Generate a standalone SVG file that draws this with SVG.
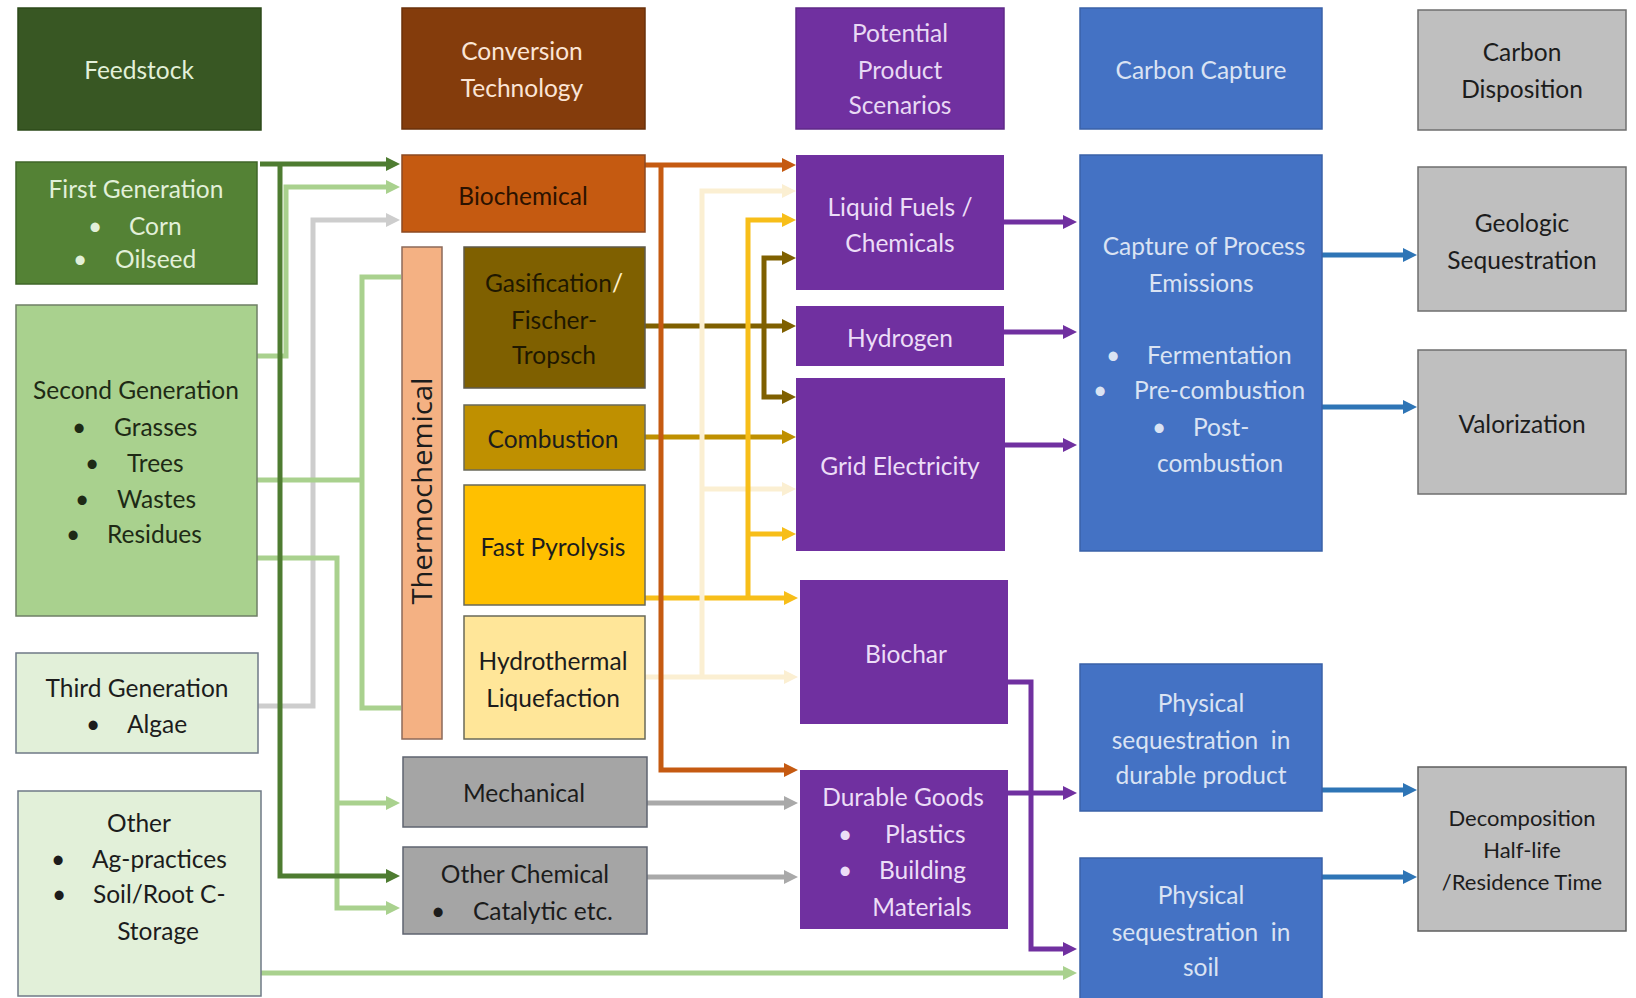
<svg xmlns="http://www.w3.org/2000/svg" width="1636" height="998" viewBox="0 0 1636 998">
<style>
.t{font-family:Lato,"Open Sans",sans-serif;font-size:24.5px;text-anchor:middle;dominant-baseline:central}
.st{text-anchor:start}
.sm{font-size:22px}
.dk{fill:#1c1c1c}
.c{fill:none;stroke-width:5}
.box{stroke-width:1.5}
</style>
<defs>
<marker id="a-dg" markerUnits="userSpaceOnUse" markerWidth="14" markerHeight="14" viewBox="0 0 14 14" refX="2" refY="7" orient="auto"><path d="M0,0L14,7L0,14z" fill="#4E7C31"/></marker>
<marker id="a-lg" markerUnits="userSpaceOnUse" markerWidth="14" markerHeight="14" viewBox="0 0 14 14" refX="2" refY="7" orient="auto"><path d="M0,0L14,7L0,14z" fill="#A9D18E"/></marker>
<marker id="a-lgr" markerUnits="userSpaceOnUse" markerWidth="14" markerHeight="14" viewBox="0 0 14 14" refX="2" refY="7" orient="auto"><path d="M0,0L14,7L0,14z" fill="#CDCDCD"/></marker>
<marker id="a-or" markerUnits="userSpaceOnUse" markerWidth="14" markerHeight="14" viewBox="0 0 14 14" refX="2" refY="7" orient="auto"><path d="M0,0L14,7L0,14z" fill="#C55A11"/></marker>
<marker id="a-pl" markerUnits="userSpaceOnUse" markerWidth="14" markerHeight="14" viewBox="0 0 14 14" refX="2" refY="7" orient="auto"><path d="M0,0L14,7L0,14z" fill="#FBEFD2"/></marker>
<marker id="a-ye" markerUnits="userSpaceOnUse" markerWidth="14" markerHeight="14" viewBox="0 0 14 14" refX="2" refY="7" orient="auto"><path d="M0,0L14,7L0,14z" fill="#F7BE19"/></marker>
<marker id="a-ol" markerUnits="userSpaceOnUse" markerWidth="14" markerHeight="14" viewBox="0 0 14 14" refX="2" refY="7" orient="auto"><path d="M0,0L14,7L0,14z" fill="#7F6000"/></marker>
<marker id="a-go" markerUnits="userSpaceOnUse" markerWidth="14" markerHeight="14" viewBox="0 0 14 14" refX="2" refY="7" orient="auto"><path d="M0,0L14,7L0,14z" fill="#BF9000"/></marker>
<marker id="a-gr" markerUnits="userSpaceOnUse" markerWidth="14" markerHeight="14" viewBox="0 0 14 14" refX="2" refY="7" orient="auto"><path d="M0,0L14,7L0,14z" fill="#A9A9A9"/></marker>
<marker id="a-pu" markerUnits="userSpaceOnUse" markerWidth="14" markerHeight="14" viewBox="0 0 14 14" refX="2" refY="7" orient="auto"><path d="M0,0L14,7L0,14z" fill="#7030A0"/></marker>
<marker id="a-bl" markerUnits="userSpaceOnUse" markerWidth="14" markerHeight="14" viewBox="0 0 14 14" refX="2" refY="7" orient="auto"><path d="M0,0L14,7L0,14z" fill="#2E75B6"/></marker>
</defs>
<rect width="1636" height="998" fill="#ffffff"/>

<g id="hdr-feedstock"><rect class="box" x="18" y="8" width="243" height="122" fill="#385723" stroke="#2c4a1a"/><text class="t" x="139" y="69" fill="#E2F0D9">Feedstock</text></g>
<g id="hdr-conversion"><rect class="box" x="402" y="8" width="243" height="121" fill="#843C0C" stroke="#6a300a"/><text class="t" x="522" y="50" fill="#FBE5D6">Conversion</text><text class="t" x="522" y="87" fill="#FBE5D6">Technology</text></g>
<g id="hdr-product"><rect class="box" x="796" y="8" width="208" height="121" fill="#7030A0" stroke="#5f2888"/><text class="t" x="900" y="32" fill="#E8D9F4">Potential</text><text class="t" x="900" y="69" fill="#E8D9F4">Product</text><text class="t" x="900" y="104" fill="#E8D9F4">Scenarios</text></g>
<g id="hdr-capture"><rect class="box" x="1080" y="8" width="242" height="121" fill="#4472C4" stroke="#3a62a8"/><text class="t" x="1201" y="69" fill="#DAE3F3">Carbon Capture</text></g>
<g id="hdr-disposition"><rect class="box" x="1418" y="10" width="208" height="120" fill="#BFBFBF" stroke="#6f6f6f"/><text class="t dk" x="1522" y="51">Carbon</text><text class="t dk" x="1522" y="88">Disposition</text></g>

<g id="connectors">
<path class="c" d="M258,706H313V220H388" stroke="#CDCDCD" marker-end="url(#a-lgr)"/>
<path class="c" d="M257,356H286V187H388" stroke="#A9D18E" marker-end="url(#a-lg)"/>
<path class="c" d="M257,480H362M401,277H362V708H401" stroke="#A9D18E"/>
<path class="c" d="M257,558H337V908H388" stroke="#A9D18E" marker-end="url(#a-lg)"/>
<path class="c" d="M337,803H388" stroke="#A9D18E" marker-end="url(#a-lg)"/>
<path class="c" d="M261,973H1065" stroke="#A9D18E" marker-end="url(#a-lg)"/>
<path class="c" d="M260,164H388" stroke="#4E7C31" marker-end="url(#a-dg)"/>
<path class="c" d="M280,164V876H388" stroke="#4E7C31" marker-end="url(#a-dg)"/>

<path class="c" d="M645,326H784" stroke="#7F6000" marker-end="url(#a-ol)"/>
<path class="c" d="M645,437H784" stroke="#BF9000" marker-end="url(#a-go)"/>
<path class="c" d="M645,677H786" stroke="#FBEFD2" marker-end="url(#a-pl)"/>
<path class="c" d="M645,598H786" stroke="#F7BE19" marker-end="url(#a-ye)"/>
<path class="c" d="M647,803H786" stroke="#A9A9A9" marker-end="url(#a-gr)"/>
<path class="c" d="M647,877H786" stroke="#A9A9A9" marker-end="url(#a-gr)"/>
<path class="c" d="M702,677V191H784" stroke="#FBEFD2" marker-end="url(#a-pl)"/>
<path class="c" d="M702,489H784" stroke="#FBEFD2" marker-end="url(#a-pl)"/>
<path class="c" d="M748,598V220H784" stroke="#F7BE19" marker-end="url(#a-ye)"/>
<path class="c" d="M748,534H784" stroke="#F7BE19" marker-end="url(#a-ye)"/>
<path class="c" d="M764,326V258H784" stroke="#7F6000" marker-end="url(#a-ol)"/>
<path class="c" d="M764,326V397H784" stroke="#7F6000" marker-end="url(#a-ol)"/>
<path class="c" d="M645,165H784" stroke="#C55A11" marker-end="url(#a-or)"/>
<path class="c" d="M661,165V770H786" stroke="#C55A11" marker-end="url(#a-or)"/>

<path class="c" d="M1004,222H1065" stroke="#7030A0" marker-end="url(#a-pu)"/>
<path class="c" d="M1004,332H1065" stroke="#7030A0" marker-end="url(#a-pu)"/>
<path class="c" d="M1005,445H1065" stroke="#7030A0" marker-end="url(#a-pu)"/>
<path class="c" d="M1008,793H1065" stroke="#7030A0" marker-end="url(#a-pu)"/>
<path class="c" d="M1008,682H1031V949H1065" stroke="#7030A0" marker-end="url(#a-pu)"/>

<path class="c" d="M1322,255H1405" stroke="#2E75B6" marker-end="url(#a-bl)"/>
<path class="c" d="M1322,407H1405" stroke="#2E75B6" marker-end="url(#a-bl)"/>
<path class="c" d="M1322,790H1405" stroke="#2E75B6" marker-end="url(#a-bl)"/>
<path class="c" d="M1322,877H1405" stroke="#2E75B6" marker-end="url(#a-bl)"/>
</g>

<g id="first-gen"><rect class="box" x="16" y="162" width="241" height="122" fill="#548235" stroke="#3f6628"/>
<text class="t" x="136" y="188" fill="#E2F0D9">First Generation</text>
<text class="t" x="95" y="225" fill="#E2F0D9">•</text><text class="t st" x="129" y="225" fill="#E2F0D9">Corn</text>
<text class="t" x="80" y="258" fill="#E2F0D9">•</text><text class="t st" x="115" y="258" fill="#E2F0D9">Oilseed</text></g>

<g id="second-gen"><rect class="box" x="16" y="305" width="241" height="311" fill="#A9D18E" stroke="#6f7f66"/>
<text class="t" x="136" y="389" fill="#1E2A15">Second Generation</text>
<text class="t" x="79" y="426" fill="#1E2A15">•</text><text class="t st" x="114" y="426" fill="#1E2A15">Grasses</text>
<text class="t" x="92" y="462" fill="#1E2A15">•</text><text class="t st" x="127" y="462" fill="#1E2A15">Trees</text>
<text class="t" x="82" y="498" fill="#1E2A15">•</text><text class="t st" x="117" y="498" fill="#1E2A15">Wastes</text>
<text class="t" x="73" y="533" fill="#1E2A15">•</text><text class="t st" x="107" y="533" fill="#1E2A15">Residues</text></g>

<g id="third-gen"><rect class="box" x="16" y="653" width="242" height="100" fill="#E2F0D9" stroke="#6f7a86"/>
<text class="t dk" x="137" y="687">Third Generation</text>
<text class="t dk" x="93" y="723">•</text><text class="t st dk" x="127" y="723">Algae</text></g>

<g id="other-feedstock"><rect class="box" x="18" y="791" width="243" height="205" fill="#E2F0D9" stroke="#6f7a86"/>
<text class="t dk" x="139" y="822">Other</text>
<text class="t dk" x="58" y="858">•</text><text class="t st dk" x="92" y="858">Ag-practices</text>
<text class="t dk" x="59" y="893">•</text><text class="t st dk" x="93" y="893">Soil/Root C-</text>
<text class="t dk" x="158" y="930">Storage</text></g>

<g id="biochemical"><rect class="box" x="402" y="155" width="243" height="77" fill="#C55A11" stroke="#8c4a22"/><text class="t" x="523" y="195" fill="#2B1200">Biochemical</text></g>
<g id="thermochemical"><rect class="box" x="402" y="247" width="40" height="492" fill="#F4B183" stroke="#8c6a5a"/><text x="421" y="491" transform="rotate(-90 421 491)" style="font-family:'Open Sans',sans-serif;font-size:27px;text-anchor:middle;dominant-baseline:central" fill="#1c1c1c" textLength="227" lengthAdjust="spacingAndGlyphs">Thermochemical</text></g>
<g id="gasification"><rect class="box" x="464" y="247" width="181" height="141" fill="#7F6000" stroke="#5f5a4a"/>
<text class="t" x="554" y="282" fill="#1f1800">Gasification<tspan fill="#FFF2CC">/</tspan></text>
<text class="t" x="554" y="319" fill="#1f1800">Fischer-</text>
<text class="t" x="554" y="354" fill="#1f1800">Tropsch</text></g>
<g id="combustion"><rect class="box" x="464" y="405" width="181" height="65" fill="#BF9000" stroke="#6a6a5a"/><text class="t dk" x="553" y="438">Combustion</text></g>
<g id="fast-pyrolysis"><rect class="box" x="464" y="485" width="181" height="120" fill="#FFC000" stroke="#6a6a5a"/><text class="t dk" x="553" y="546">Fast Pyrolysis</text></g>
<g id="hydrothermal"><rect class="box" x="464" y="616" width="181" height="123" fill="#FFE699" stroke="#6a6a5a"/><text class="t dk" x="553" y="660">Hydrothermal</text><text class="t dk" x="553" y="697">Liquefaction</text></g>
<g id="mechanical"><rect class="box" x="403" y="757" width="244" height="70" fill="#A5A5A5" stroke="#5f6470"/><text class="t dk" x="524" y="792">Mechanical</text></g>
<g id="other-chemical"><rect class="box" x="403" y="847" width="244" height="87" fill="#A5A5A5" stroke="#5f6470"/>
<text class="t dk" x="525" y="873">Other Chemical</text>
<text class="t dk" x="438" y="910">•</text><text class="t st dk" x="473" y="910">Catalytic etc.</text></g>

<g id="liquid-fuels"><rect x="796" y="155" width="208" height="135" fill="#7030A0"/><text class="t" x="900" y="206" fill="#ECDDF7">Liquid Fuels /</text><text class="t" x="900" y="242" fill="#ECDDF7">Chemicals</text></g>
<g id="hydrogen"><rect x="796" y="306" width="208" height="60" fill="#7030A0"/><text class="t" x="900" y="337" fill="#ECDDF7">Hydrogen</text></g>
<g id="grid-electricity"><rect x="796" y="378" width="209" height="173" fill="#7030A0"/><text class="t" x="900" y="465" fill="#ECDDF7">Grid Electricity</text></g>
<g id="biochar"><rect x="800" y="580" width="208" height="144" fill="#7030A0"/><text class="t" x="906" y="653" fill="#ECDDF7">Biochar</text></g>
<g id="durable-goods"><rect x="800" y="770" width="208" height="159" fill="#7030A0"/>
<text class="t" x="903" y="796" fill="#ECDDF7">Durable Goods</text>
<text class="t" x="845" y="833" fill="#ECDDF7">•</text><text class="t st" x="885" y="833" fill="#ECDDF7">Plastics</text>
<text class="t" x="845" y="869" fill="#ECDDF7">•</text><text class="t st" x="879" y="869" fill="#ECDDF7">Building</text>
<text class="t" x="922" y="906" fill="#ECDDF7">Materials</text></g>

<g id="capture-process"><rect class="box" x="1080" y="155" width="242" height="396" fill="#4472C4" stroke="#3a62a8"/>
<text class="t" x="1204" y="245" fill="#DAE3F3">Capture of Process</text>
<text class="t" x="1201" y="282" fill="#DAE3F3">Emissions</text>
<text class="t" x="1113" y="354" fill="#DAE3F3">•</text><text class="t st" x="1147" y="354" fill="#DAE3F3">Fermentation</text>
<text class="t" x="1100" y="389" fill="#DAE3F3">•</text><text class="t st" x="1134" y="389" fill="#DAE3F3">Pre-combustion</text>
<text class="t" x="1159" y="426" fill="#DAE3F3">•</text><text class="t st" x="1193" y="426" fill="#DAE3F3">Post-</text>
<text class="t" x="1220" y="462" fill="#DAE3F3">combustion</text></g>
<g id="phys-durable"><rect class="box" x="1080" y="664" width="242" height="147" fill="#4472C4" stroke="#3a62a8"/>
<text class="t" x="1201" y="702" fill="#DAE3F3">Physical</text>
<text class="t" x="1201" y="739" fill="#DAE3F3" xml:space="preserve">sequestration  in</text>
<text class="t" x="1201" y="774" fill="#DAE3F3">durable product</text></g>
<g id="phys-soil"><rect class="box" x="1080" y="858" width="242" height="145" fill="#4472C4" stroke="#3a62a8"/>
<text class="t" x="1201" y="894" fill="#DAE3F3">Physical</text>
<text class="t" x="1201" y="931" fill="#DAE3F3" xml:space="preserve">sequestration  in</text>
<text class="t" x="1201" y="966" fill="#DAE3F3">soil</text></g>

<g id="geologic"><rect class="box" x="1418" y="167" width="208" height="144" fill="#BFBFBF" stroke="#6f6f6f"/><text class="t dk" x="1522" y="222">Geologic</text><text class="t dk" x="1522" y="259">Sequestration</text></g>
<g id="valorization"><rect class="box" x="1418" y="350" width="208" height="144" fill="#BFBFBF" stroke="#6f6f6f"/><text class="t dk" x="1522" y="423">Valorization</text></g>
<g id="decomposition"><rect class="box" x="1418" y="767" width="208" height="164" fill="#BFBFBF" stroke="#5f5f5f"/>
<text class="t sm dk" x="1522" y="817">Decomposition</text>
<text class="t sm dk" x="1522" y="849">Half-life</text>
<text class="t sm dk" x="1522" y="881">/Residence Time</text></g>
</svg>
